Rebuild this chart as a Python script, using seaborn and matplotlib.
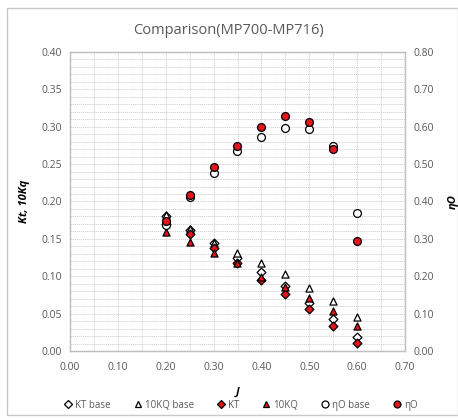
import matplotlib
matplotlib.use("Agg")
import matplotlib.pyplot as plt
import matplotlib.patches as mpatches
from matplotlib.ticker import MultipleLocator, FormatStrFormatter
from matplotlib.lines import Line2D
import seaborn as sns
import pandas as pd

sns.set_theme(style="white")
plt.rcParams['font.family'] = ['Open Sans', 'DejaVu Sans']

J = [0.20, 0.25, 0.30, 0.35, 0.40, 0.45, 0.50, 0.55, 0.60]
kt_base = [0.180, 0.162, 0.144, 0.124, 0.106, 0.087, 0.064, 0.043, 0.019]
kq10_base = [0.182, 0.163, 0.145, 0.131, 0.118, 0.103, 0.084, 0.067, 0.046]
kt = [0.170, 0.156, 0.138, 0.118, 0.095, 0.076, 0.056, 0.033, 0.011]
kq10 = [0.159, 0.146, 0.131, 0.118, 0.099, 0.086, 0.071, 0.054, 0.033]
eta_base = [0.337, 0.412, 0.476, 0.536, 0.573, 0.597, 0.594, 0.549, 0.369]
eta = [0.348, 0.418, 0.492, 0.548, 0.600, 0.629, 0.613, 0.540, 0.294]

df = pd.DataFrame({"J": J, "KT base": kt_base, "10KQ base": kq10_base,
                   "KT": kt, "10KQ": kq10, "ηO base": eta_base, "ηO": eta})

W, H = 458, 419
fig = plt.figure(figsize=(W / 100, H / 100), dpi=100)
fig.patch.set_facecolor("white")
fig.add_artist(mpatches.Rectangle((7 / W, 4 / H), (W - 7) / W, (H - 12) / H,
                                  transform=fig.transFigure, fill=False,
                                  edgecolor="#c8c8c8", lw=1.0))

ax = fig.add_axes([70 / W, 1 - 351 / H, (405 - 70) / W, (351 - 52) / H])
ax2 = ax.twinx()

red = "#e8141b"
series_left = [
    ("KT base", "D", "white", 20),
    ("10KQ base", "^", "white", 26),
    ("KT", "D", red, 20),
    ("10KQ", "^", red, 26),
]
for name, m, fc, s in series_left:
    sns.scatterplot(data=df, x="J", y=name, ax=ax, marker=m, color=fc,
                    edgecolor="black", linewidth=0.9, s=s, zorder=3, legend=False)
series_right = [
    ("ηO base", "o", "white", 32),
    ("ηO", "o", red, 32),
]
for name, m, fc, s in series_right:
    sns.scatterplot(data=df, x="J", y=name, ax=ax2, marker=m, color=fc,
                    edgecolor="black", linewidth=0.9, s=s, zorder=3, legend=False)

ax.set_xlim(0, 0.70)
ax.set_ylim(0, 0.40)
ax2.set_ylim(0, 0.80)
ax.xaxis.set_major_locator(MultipleLocator(0.10))
ax.xaxis.set_minor_locator(MultipleLocator(0.05))
ax.yaxis.set_major_locator(MultipleLocator(0.05))
ax.yaxis.set_minor_locator(MultipleLocator(0.01))
ax2.yaxis.set_major_locator(MultipleLocator(0.10))
ax.xaxis.set_major_formatter(FormatStrFormatter("%.2f"))
ax.yaxis.set_major_formatter(FormatStrFormatter("%.2f"))
ax2.yaxis.set_major_formatter(FormatStrFormatter("%.2f"))

ax.grid(which="both", axis="both", color="#cccccc", linestyle=(0, (1.5, 1)), lw=0.6)
ax.set_axisbelow(True)
for a in (ax, ax2):
    for sp in a.spines.values():
        sp.set_color("#bfbfbf")
        sp.set_linewidth(0.9)
    a.tick_params(which="both", length=0, colors="#595959", labelsize=7.5, pad=6)
ax.tick_params(axis="x", pad=8)

ax.set_xlabel("J", fontsize=8, fontweight="bold", fontstyle="italic", color="black", labelpad=10)
ax.set_ylabel("Kt, 10Kq", fontsize=8, fontweight="bold", fontstyle="italic", color="black", labelpad=8)
ax2.set_ylabel("ηO", fontsize=8, fontweight="bold", fontstyle="italic", color="black", labelpad=10)

fig.text(0.5, 1 - 31 / H, "Comparison(MP700-MP716)", ha="center", va="center",
         fontsize=10.5, color="#595959")

handles = []
labels = []
for name, m, fc, s in series_left + series_right:
    handles.append(Line2D([], [], marker=m, color="none", markerfacecolor=fc,
                          markeredgecolor="black", markeredgewidth=0.9,
                          markersize=4.0 if m != "o" else 5.0))
    labels.append(name)
fig.legend(handles, labels, loc="center", bbox_to_anchor=(0.525, 1 - 405 / H),
           ncol=6, frameon=False, fontsize=7, handletextpad=0.2,
           columnspacing=2.3, handlelength=1.0, labelcolor="#595959")

fig.savefig("out.png", dpi=100, facecolor="white")
